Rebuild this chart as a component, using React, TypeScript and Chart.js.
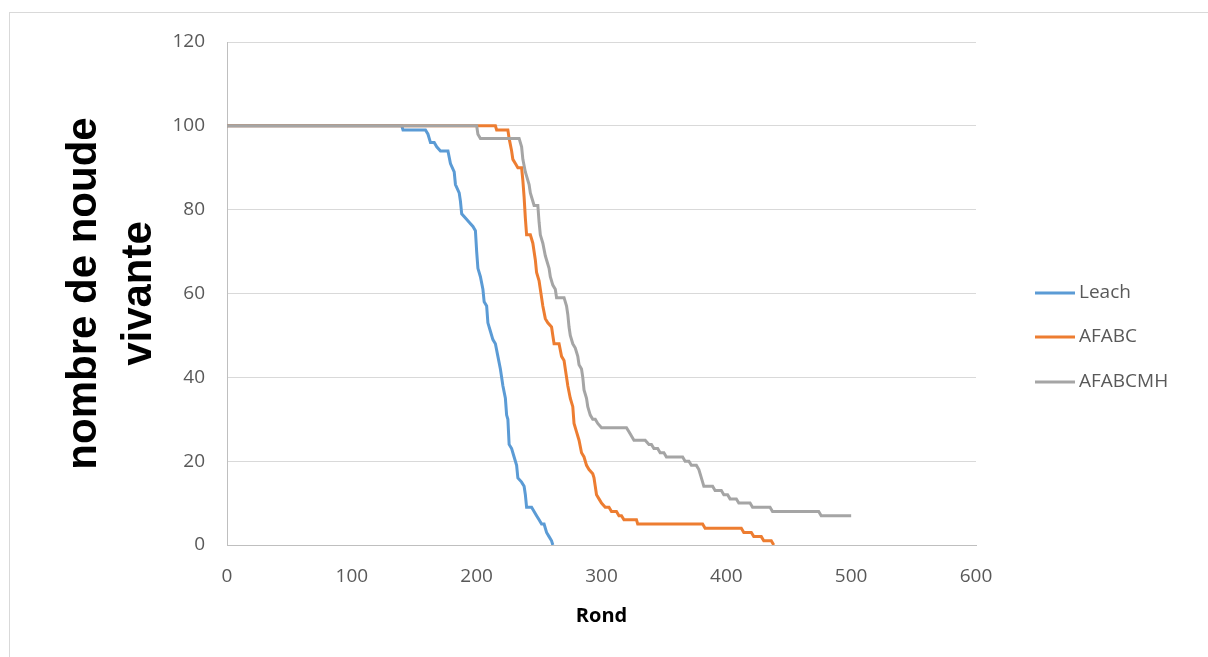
import React, { useEffect, useRef } from "react";
import { Chart, registerables } from "chart.js";

Chart.register(...registerables);

const seriesNames = ["Leach", "AFABC", "AFABCMH"];
const seriesColors = ["#5b9bd5", "#ed7d31", "#a5a5a5"];

const leachX = [0, 140, 141, 159, 161, 163, 166, 168, 171, 177, 179, 182, 183, 186, 187, 188, 191, 194, 197, 199, 200, 201, 203, 205, 206, 208, 209, 211, 213, 215, 217, 219, 221, 223, 224, 225, 226, 228, 230, 232, 233, 236, 238, 239, 240, 244, 246, 248, 250, 252, 254, 256, 258, 260, 261];
const leachY = [100, 100, 99, 99, 98, 96, 96, 95, 94, 94, 91, 89, 86, 84, 82, 79, 78, 77, 76, 75, 70, 66, 64, 61, 58, 57, 53, 51, 49, 48, 45, 42, 38, 35, 31, 30, 24, 23, 21, 19, 16, 15, 14, 12, 9, 9, 8, 7, 6, 5, 5, 3, 2, 1, 0];

const afabcX = [0, 215, 216, 225, 226, 228, 229, 231, 233, 236, 237, 238, 239, 240, 243, 245, 247, 248, 250, 251, 253, 255, 257, 260, 261, 262, 266, 268, 270, 271, 272, 273, 275, 277, 278, 280, 282, 284, 286, 288, 290, 293, 294, 295, 296, 298, 300, 303, 306, 308, 312, 314, 316, 318, 328, 329, 381, 383, 412, 414, 420, 422, 428, 430, 436, 438];
const afabcY = [100, 100, 99, 99, 97, 94, 92, 91, 90, 90, 87, 83, 78, 74, 74, 72, 68, 65, 63, 61, 57, 54, 53, 52, 50, 48, 48, 45, 44, 42, 40, 38, 35, 33, 29, 27, 25, 22, 21, 19, 18, 17, 16, 14, 12, 11, 10, 9, 9, 8, 8, 7, 7, 6, 6, 5, 5, 4, 4, 3, 3, 2, 2, 1, 1, 0];

const afabcmhX = [0, 200, 201, 203, 234, 236, 237, 239, 240, 242, 243, 245, 246, 249, 250, 251, 253, 255, 256, 258, 259, 261, 263, 264, 270, 272, 273, 274, 275, 277, 279, 281, 282, 284, 285, 286, 288, 289, 291, 293, 295, 297, 300, 320, 322, 324, 326, 335, 338, 340, 342, 345, 347, 350, 352, 365, 367, 370, 372, 376, 378, 380, 381, 382, 389, 391, 396, 398, 401, 403, 408, 410, 419, 421, 435, 437, 474, 476, 500];
const afabcmhY = [100, 100, 98, 97, 97, 95, 92, 89, 88, 86, 84, 82, 81, 81, 77, 74, 72, 69, 68, 66, 64, 62, 61, 59, 59, 57, 55, 52, 50, 48, 47, 45, 43, 42, 40, 37, 35, 33, 31, 30, 30, 29, 28, 28, 27, 26, 25, 25, 24, 24, 23, 23, 22, 22, 21, 21, 20, 20, 19, 19, 18, 16, 15, 14, 14, 13, 13, 12, 12, 11, 11, 10, 10, 9, 9, 8, 8, 7, 7];

const xTicks = [0, 100, 200, 300, 400, 500, 600];
const yTicks = [0, 20, 40, 60, 80, 100, 120];

const W = 1208;
const H = 657;
const AREA = { left: 227, right: 976, top: 42, bottom: 545 };

const toPoints = (xs: number[], ys: number[]) => xs.map((x, i) => ({ x, y: ys[i] }));

export default function App() {
  const ref = useRef<HTMLCanvasElement>(null);
  useEffect(() => {
    if (!ref.current) return;
    const seriesData = [toPoints(leachX, leachY), toPoints(afabcX, afabcY), toPoints(afabcmhX, afabcmhY)];
    const borderPlugin = {
      id: "frame",
      beforeDraw(chart: any) {
        const ctx = chart.ctx;
        ctx.save();
        ctx.fillStyle = "#ffffff";
        ctx.fillRect(0, 0, W, H);
        ctx.strokeStyle = "#d9d9d9";
        ctx.lineWidth = 1;
        ctx.strokeRect(9.5, 12.5, W + 50, H + 50);
        ctx.restore();
      },
      afterDraw(chart: any) {
        const ctx = chart.ctx;
        ctx.save();
        const rowY = [293, 337, 382];
        seriesNames.forEach((name, i) => {
          ctx.strokeStyle = seriesColors[i];
          ctx.lineWidth = 3;
          ctx.beginPath();
          ctx.moveTo(1035, rowY[i]);
          ctx.lineTo(1075, rowY[i]);
          ctx.stroke();
          ctx.fillStyle = "#595959";
          ctx.font = "19px 'Open Sans'";
          ctx.textBaseline = "middle";
          ctx.textAlign = "left";
          ctx.fillText(name, 1079, rowY[i]);
        });
        ctx.restore();
      },
    };
    const chart = new Chart(ref.current, {
      type: "scatter",
      data: {
        datasets: seriesNames.map((name, i) => ({
          label: name,
          data: seriesData[i],
          showLine: true,
          borderColor: seriesColors[i],
          backgroundColor: seriesColors[i],
          borderWidth: 3,
          pointRadius: 0,
          pointHoverRadius: 0,
          fill: false,
          tension: 0,
          order: 3 - i,
        })),
      },
      options: {
        responsive: false,
        animation: false,
        events: [],
        layout: { padding: { left: 0, top: AREA.top, right: W - AREA.right, bottom: 0 } },
        plugins: { legend: { display: false }, tooltip: { enabled: false } },
        scales: {
          x: {
            type: "linear",
            min: 0,
            max: 600,
            afterBuildTicks: (s: any) => {
              s.ticks = xTicks.map((v) => ({ value: v }));
            },
            afterFit: (s: any) => {
              s.height = H - AREA.bottom;
            },
            grid: { display: false, drawTicks: false },
            border: { display: true, color: "#bfbfbf", width: 1 },
            ticks: { color: "#595959", font: { family: "'Open Sans'", size: 19 }, padding: 20, maxRotation: 0 },
            title: {
              display: true,
              text: "Rond",
              color: "#000000",
              font: { family: "'Open Sans'", size: 20, weight: "bold" },
              padding: { top: 0, bottom: 29 },
            },
          },
          y: {
            type: "linear",
            min: 0,
            max: 120,
            afterBuildTicks: (s: any) => {
              s.ticks = yTicks.map((v) => ({ value: v }));
            },
            afterFit: (s: any) => {
              s.width = AREA.left;
            },
            grid: { color: "#d9d9d9", lineWidth: 1, drawTicks: false },
            border: { display: true, color: "#bfbfbf", width: 1 },
            ticks: { color: "#595959", font: { family: "'Open Sans'", size: 19 }, padding: 22 },
            title: {
              display: true,
              text: ["nombre de noude", "vivante"],
              color: "#000000",
              font: { family: "'Liberation Sans'", size: 42, weight: "bold", lineHeight: 1.31 },
              padding: { top: 57, bottom: 0 },
            },
          },
        },
      },
      plugins: [borderPlugin],
    });
    return () => chart.destroy();
  }, []);
  return (
    <div style={{ position: "fixed", left: 0, top: 0, width: W, height: H, background: "#fff" }}>
      <canvas ref={ref} width={W} height={H} style={{ display: "block", width: W, height: H }} />
    </div>
  );
}
